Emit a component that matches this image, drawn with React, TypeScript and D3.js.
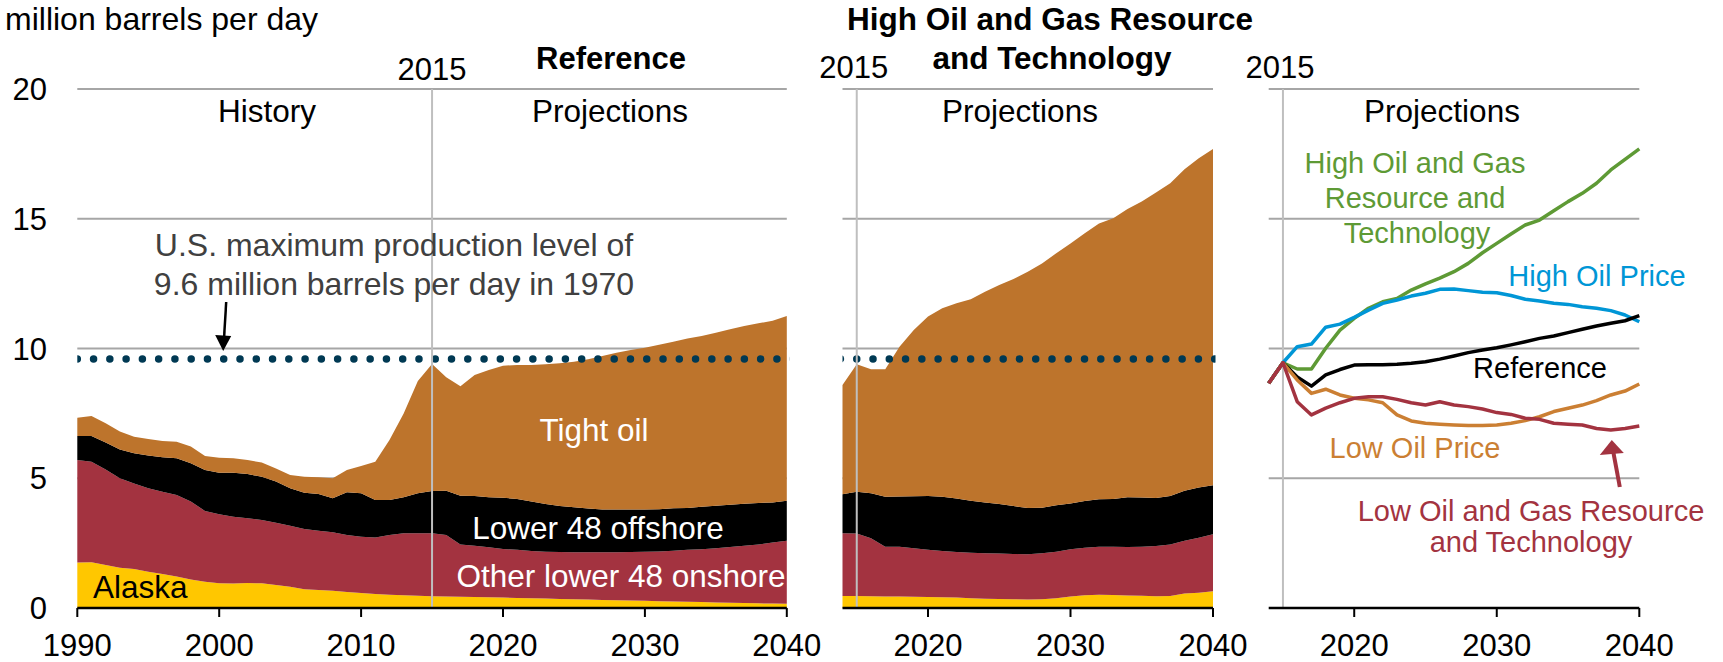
import React from "react";
import * as d3 from "d3";

// ---------- DATA ----------
const refYears = [1990,1991,1992,1993,1994,1995,1996,1997,1998,1999,2000,2001,2002,2003,2004,2005,2006,2007,2008,2009,2010,2011,2012,2013,2014,2015,2016,2017,2018,2019,2020,2021,2022,2023,2024,2025,2026,2027,2028,2029,2030,2031,2032,2033,2034,2035,2036,2037,2038,2039,2040];
const refAlaska = [1.75,1.76,1.66,1.55,1.50,1.40,1.31,1.21,1.10,1.01,0.95,0.94,0.96,0.95,0.89,0.82,0.72,0.69,0.66,0.62,0.58,0.54,0.51,0.49,0.47,0.45,0.44,0.43,0.42,0.41,0.40,0.39,0.38,0.37,0.35,0.34,0.33,0.31,0.30,0.29,0.28,0.26,0.25,0.24,0.23,0.21,0.20,0.19,0.18,0.17,0.16];
const refOnshore = [3.95,3.88,3.68,3.45,3.30,3.21,3.17,3.14,3.00,2.73,2.66,2.58,2.50,2.44,2.40,2.35,2.32,2.29,2.26,2.19,2.17,2.18,2.30,2.39,2.41,2.43,2.37,2.02,1.98,1.93,1.87,1.85,1.82,1.80,1.81,1.81,1.82,1.84,1.85,1.87,1.89,1.92,1.96,2.00,2.03,2.09,2.15,2.21,2.27,2.35,2.43];
const refOffshore = [0.93,0.99,1.04,1.11,1.16,1.27,1.33,1.42,1.48,1.58,1.60,1.69,1.70,1.67,1.58,1.44,1.40,1.41,1.31,1.65,1.67,1.44,1.35,1.39,1.54,1.63,1.71,1.88,1.92,1.93,1.98,1.96,1.90,1.84,1.77,1.73,1.68,1.65,1.65,1.64,1.63,1.63,1.63,1.61,1.64,1.64,1.63,1.62,1.60,1.55,1.54];
const refTight = [0.70,0.77,0.74,0.69,0.64,0.63,0.63,0.64,0.64,0.54,0.58,0.56,0.54,0.55,0.51,0.52,0.62,0.65,0.77,0.86,1.05,1.48,2.31,3.23,4.33,4.89,4.37,4.22,4.66,4.90,5.09,5.16,5.26,5.38,5.50,5.61,5.76,5.91,6.04,6.14,6.23,6.33,6.42,6.54,6.58,6.67,6.76,6.85,6.92,7.00,7.12];

const projYears = [2014,2015,2016,2017,2018,2019,2020,2021,2022,2023,2024,2025,2026,2027,2028,2029,2030,2031,2032,2033,2034,2035,2036,2037,2038,2039,2040];
const hogAlaska = [0.46,0.46,0.45,0.44,0.44,0.43,0.42,0.41,0.40,0.38,0.36,0.35,0.34,0.33,0.34,0.38,0.44,0.49,0.51,0.50,0.48,0.47,0.45,0.46,0.56,0.59,0.65];
const hogOnshore = [2.42,2.41,2.24,1.92,1.92,1.87,1.82,1.79,1.76,1.75,1.75,1.75,1.74,1.74,1.77,1.79,1.82,1.83,1.85,1.86,1.87,1.89,1.94,1.99,2.03,2.12,2.19];
const hogOffshore = [1.50,1.61,1.73,1.93,1.94,2.01,2.08,2.09,2.06,2.00,1.96,1.91,1.85,1.78,1.75,1.79,1.77,1.80,1.83,1.84,1.92,1.90,1.85,1.87,1.93,1.93,1.89];
const hogTight = [4.21,4.91,4.78,4.91,5.77,6.40,6.91,7.26,7.52,7.77,8.12,8.44,8.75,9.11,9.42,9.71,10.02,10.32,10.63,10.82,11.11,11.40,11.77,12.05,12.39,12.69,12.96];

const caseHighOilGas = [8.66,9.45,9.21,9.21,10.01,10.71,11.16,11.55,11.80,11.93,12.25,12.49,12.71,12.96,13.28,13.69,14.05,14.41,14.76,14.95,15.31,15.66,15.98,16.37,16.88,17.29,17.69];
const caseHighPrice = [8.66,9.45,10.07,10.17,10.82,10.94,11.20,11.48,11.74,11.87,12.02,12.13,12.28,12.29,12.23,12.17,12.15,12.04,11.90,11.83,11.74,11.70,11.61,11.55,11.46,11.29,11.03];
const caseReference = [8.66,9.45,8.90,8.55,8.98,9.19,9.36,9.37,9.37,9.39,9.43,9.49,9.59,9.71,9.84,9.94,10.03,10.14,10.26,10.39,10.48,10.61,10.74,10.87,10.97,11.07,11.27];
const caseLowPrice = [8.66,9.45,8.79,8.27,8.43,8.21,8.08,8.02,7.91,7.44,7.21,7.12,7.08,7.05,7.03,7.03,7.05,7.12,7.22,7.37,7.57,7.70,7.82,7.99,8.21,8.36,8.63];
const caseLowOilGas = [8.66,9.45,7.95,7.44,7.70,7.91,8.08,8.14,8.14,8.04,7.91,7.82,7.95,7.82,7.76,7.67,7.53,7.46,7.31,7.27,7.12,7.08,7.05,6.92,6.86,6.92,7.01];

const yTicks = [0, 5, 10, 15, 20];
const maxLevel = 9.6;
const layerKeys = ["alaska", "onshore", "offshore", "tight"];
const layerColors: Record<string, string> = {
  alaska: "#FFC700",
  onshore: "#A33340",
  offshore: "#000000",
  tight: "#BD742C",
};

// ---------- LAYOUT ----------
const W = 1723, H = 662;
const FONT = "'Liberation Sans', Arial, Helvetica, sans-serif";
const DOT_GAP = 16.27;
const y = d3.scaleLinear().domain([0, 20]).range([608, 89]);
const x1 = d3.scaleLinear().domain([1990, 2040]).range([77.3, 786.8]);
const x2 = d3.scaleLinear().domain([2014, 2040]).range([842.5, 1213]);
const x3 = d3.scaleLinear().domain([2014, 2040]).range([1268.7, 1639.3]);

function buildRows(years: number[], a: number[], o: number[], f: number[], t: number[]) {
  return years.map((yr, i) => ({ year: yr, alaska: a[i], onshore: o[i], offshore: f[i], tight: t[i] }));
}

function Areas({ rows, xs }: { rows: any[]; xs: d3.ScaleLinear<number, number> }) {
  const stacked = d3.stack().keys(layerKeys)(rows as any);
  const area = d3
    .area<any>()
    .x((d) => xs(d.data.year))
    .y0((d) => y(d[0]))
    .y1((d) => y(d[1]));
  return (
    <g>
      {stacked.map((s) => (
        <path key={s.key} d={area(s as any) || ""} fill={layerColors[s.key]} />
      ))}
    </g>
  );
}

function Grid({ xs, lines }: { xs: d3.ScaleLinear<number, number>; lines: number[] }) {
  const [a, b] = xs.range();
  return (
    <g>
      {lines.map((v) => (
        <line key={v} x1={a} x2={b} y1={y(v)} y2={y(v)} stroke="#A6A6A6" strokeWidth={2} />
      ))}
    </g>
  );
}

function Axis({ xs, ticks }: { xs: d3.ScaleLinear<number, number>; ticks: number[] }) {
  const [a, b] = xs.range();
  return (
    <g>
      <line x1={a} x2={b} y1={y(0)} y2={y(0)} stroke="#000" strokeWidth={2.5} />
      {ticks.map((t) => (
        <g key={t}>
          <line x1={xs(t)} x2={xs(t)} y1={y(0)} y2={y(0) + 9} stroke="#000" strokeWidth={2} />
          <text x={xs(t)} y={656} textAnchor="middle" fontSize={31} fill="#000">
            {t}
          </text>
        </g>
      ))}
    </g>
  );
}

function Dots({ xs, id, start }: { xs: d3.ScaleLinear<number, number>; id: string; start: number }) {
  const [a, b] = xs.range();
  return (
    <g>
      <clipPath id={id}>
        <rect x={a} y={0} width={b - a + 2.5} height={H} />
      </clipPath>
      <line
        x1={start}
        x2={b + 12}
        y1={y(maxLevel)}
        y2={y(maxLevel)}
        stroke="#003953"
        strokeWidth={7.5}
        strokeLinecap="round"
        strokeDasharray={`0 ${DOT_GAP}`}
        clipPath={`url(#${id})`}
      />
    </g>
  );
}

function VLine2015({ xs }: { xs: d3.ScaleLinear<number, number> }) {
  return <line x1={xs(2015)} x2={xs(2015)} y1={y(20)} y2={y(0)} stroke="#BFBFBF" strokeWidth={2} />;
}

export default function App() {
  const refRows = buildRows(refYears, refAlaska, refOnshore, refOffshore, refTight);
  const hogRows = buildRows(projYears, hogAlaska, hogOnshore, hogOffshore, hogTight);

  const line = d3
    .line<number>()
    .x((_, i) => x3(projYears[i]))
    .y((d) => y(d));

  const cases = [
    { vals: caseHighOilGas, color: "#5E9A35" },
    { vals: caseHighPrice, color: "#0096D6" },
    { vals: caseReference, color: "#000000" },
    { vals: caseLowPrice, color: "#CB7F33" },
    { vals: caseLowOilGas, color: "#A33340" },
  ];

  const tip1x = x1(2000) + 4;
  const tip1y = y(maxLevel) - 8;
  const tip2x = x3(2038) + 1;
  const tip2y = y(caseLowOilGas[24]) + 10;

  return (
    <div style={{ position: "absolute", left: 0, top: 0 }}>
      <svg width={W} height={H} style={{ display: "block", fontFamily: FONT }}>
        <rect width={W} height={H} fill="#fff" />

        {/* y axis labels */}
        {yTicks.map((t) => (
          <text key={t} x={47} y={y(t) + 11} textAnchor="end" fontSize={31} fill="#000">
            {t}
          </text>
        ))}
        <text x={5} y={30} fontSize={32} fill="#000">million barrels per day</text>

        {/* ---------- Panel 1: Reference ---------- */}
        <Grid xs={x1} lines={[5, 10, 15, 20]} />
        <Areas rows={refRows} xs={x1} />
        <Dots xs={x1} id="clip1" start={x1(1990)} />
        <VLine2015 xs={x1} />
        <Axis xs={x1} ticks={[1990, 2000, 2010, 2020, 2030, 2040]} />
        <text x={x1(2015)} y={80} textAnchor="middle" fontSize={31}>2015</text>
        <text x={611} y={69} textAnchor="middle" fontSize={31} fontWeight="bold">Reference</text>
        <text x={267} y={122} textAnchor="middle" fontSize={31.5}>History</text>
        <text x={610} y={122} textAnchor="middle" fontSize={31.5}>Projections</text>
        <text x={394} y={256} textAnchor="middle" fontSize={32} fill="#404040">U.S. maximum production level of</text>
        <text x={394} y={295} textAnchor="middle" fontSize={32} fill="#404040">9.6 million barrels per day in 1970</text>
        <line x1={tip1x + 3} y1={302} x2={tip1x + 0.8} y2={tip1y - 12} stroke="#000" strokeWidth={2.5} />
        <path d={`M${tip1x},${tip1y} L${tip1x - 8},${tip1y - 16} L${tip1x + 8},${tip1y - 15} Z`} fill="#000" />
        <text x={594} y={441} textAnchor="middle" fontSize={31.5} fill="#fff">Tight oil</text>
        <text x={598} y={539} textAnchor="middle" fontSize={31.5} fill="#fff">Lower 48 offshore</text>
        <text x={621} y={587} textAnchor="middle" fontSize={31.5} fill="#fff">Other lower 48 onshore</text>
        <text x={93} y={598} fontSize={31.5} fill="#000">Alaska</text>

        {/* ---------- Panel 2: High Oil and Gas ---------- */}
        <Grid xs={x2} lines={[5, 10, 15, 20]} />
        <Areas rows={hogRows} xs={x2} />
        <Dots xs={x2} id="clip2" start={x2(2015) - DOT_GAP} />
        <VLine2015 xs={x2} />
        <Axis xs={x2} ticks={[2020, 2030, 2040]} />
        <text x={x2(2015) - 3} y={78} textAnchor="middle" fontSize={31}>2015</text>
        <text x={1050} y={30} textAnchor="middle" fontSize={31.5} fontWeight="bold">High Oil and Gas Resource</text>
        <text x={1052} y={69} textAnchor="middle" fontSize={31.5} fontWeight="bold">and Technology</text>
        <text x={1020} y={122} textAnchor="middle" fontSize={31.5}>Projections</text>

        {/* ---------- Panel 3: cases ---------- */}
        <Grid xs={x3} lines={[5, 10, 15, 20]} />
        <VLine2015 xs={x3} />
        <Axis xs={x3} ticks={[2020, 2030, 2040]} />
        {cases.map((c, i) => (
          <path key={i} d={line(c.vals) || ""} fill="none" stroke={c.color} strokeWidth={3.5} strokeLinejoin="round" />
        ))}
        <text x={x3(2015) - 3} y={78} textAnchor="middle" fontSize={31}>2015</text>
        <text x={1442} y={122} textAnchor="middle" fontSize={31.5}>Projections</text>
        <g fill="#5E9A35" fontSize={29} textAnchor="middle">
          <text x={1415} y={173}>High Oil and Gas</text>
          <text x={1415} y={208}>Resource and</text>
          <text x={1417} y={243}>Technology</text>
        </g>
        <text x={1597} y={286} textAnchor="middle" fontSize={29} fill="#0096D6">High Oil Price</text>
        <text x={1540} y={378} textAnchor="middle" fontSize={29} fill="#000">Reference</text>
        <text x={1415} y={458} textAnchor="middle" fontSize={29} fill="#CB7F33">Low Oil Price</text>
        <g fill="#A33340" fontSize={29} textAnchor="middle">
          <text x={1531} y={521}>Low Oil and Gas Resource</text>
          <text x={1531} y={552}>and Technology</text>
        </g>
        <line x1={tip2x + 8} y1={487} x2={tip2x + 1.5} y2={tip2y + 12} stroke="#A33340" strokeWidth={4} />
        <path d={`M${tip2x},${tip2y} L${tip2x - 12},${tip2y + 15} L${tip2x + 12},${tip2y + 13} Z`} fill="#A33340" />
      </svg>
    </div>
  );
}
